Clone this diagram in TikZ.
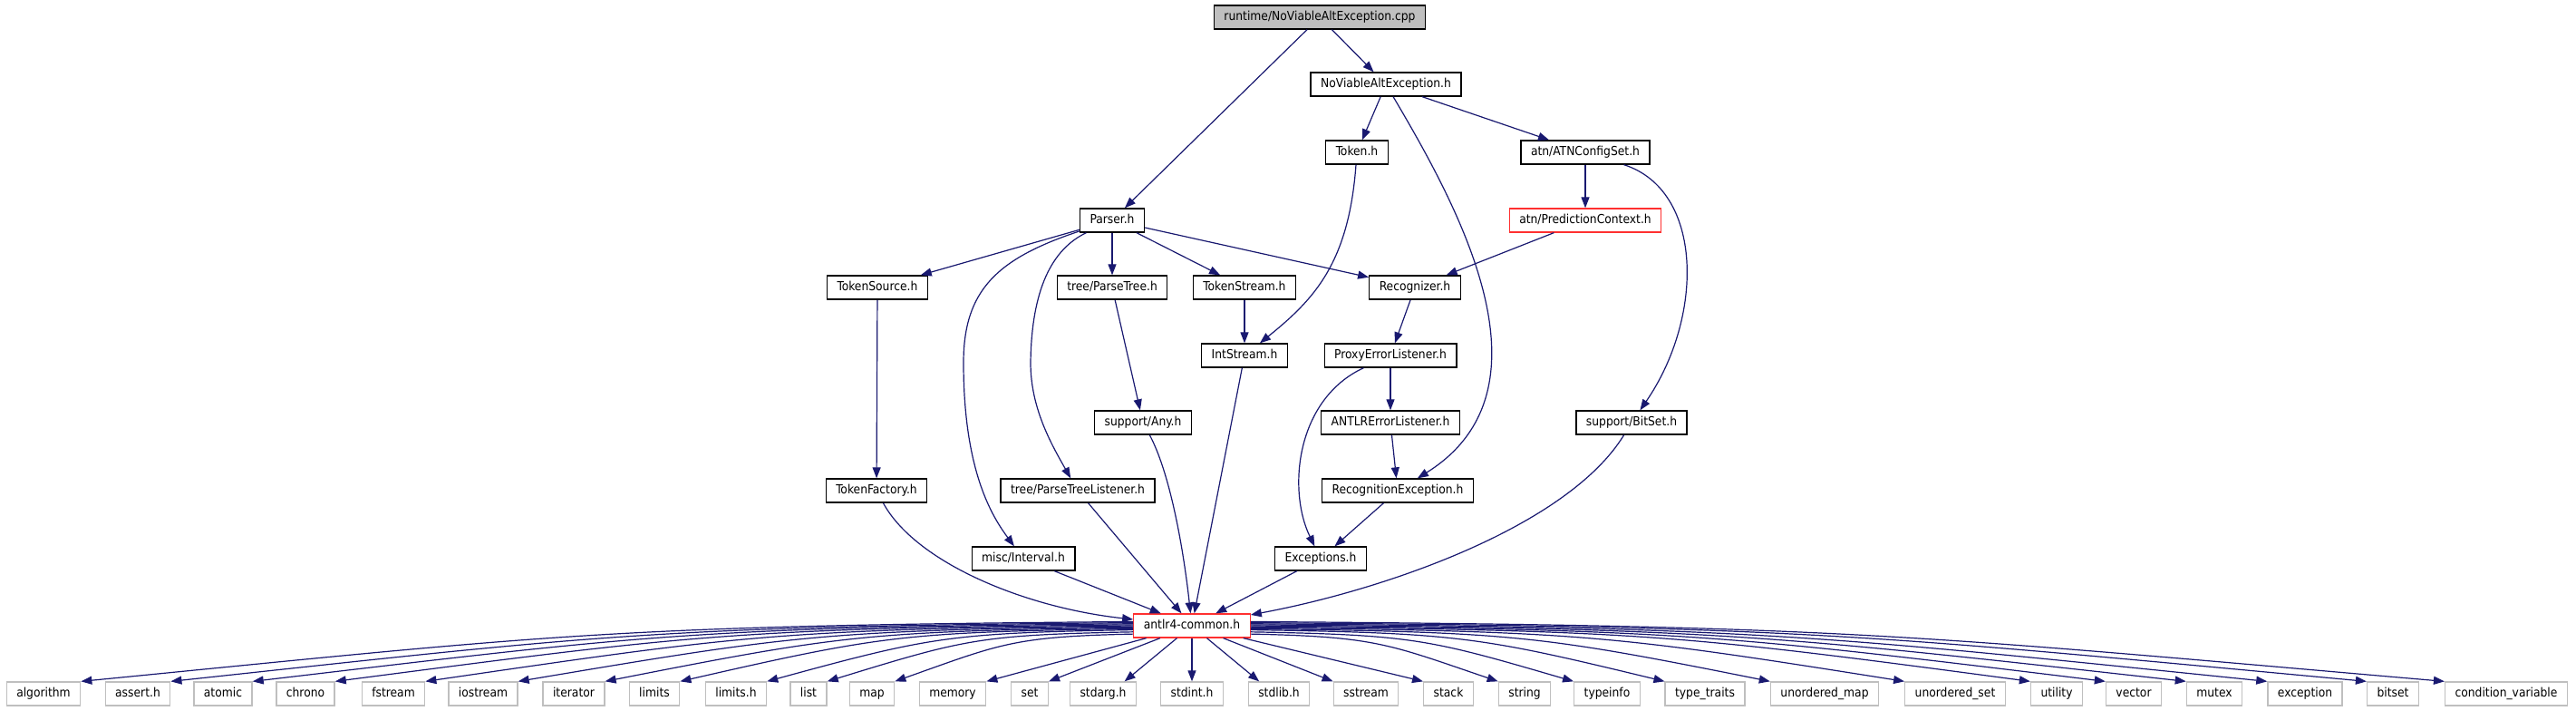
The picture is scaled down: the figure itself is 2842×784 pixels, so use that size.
\documentclass[tikz,border=0pt]{standalone}
\usepackage{fontspec}
\setmainfont{DejaVu Sans Condensed}
\usetikzlibrary{arrows.meta}
\definecolor{edgeblue}{HTML}{191970}
\definecolor{sysgray}{HTML}{BFBFBF}
\definecolor{cutred}{HTML}{FF3030}
\tikzset{
  hdr/.style={draw=black, line width=1.3pt, fill=white, minimum height=26pt,
    inner xsep=11pt, inner ysep=0pt, text height=10pt, text depth=3pt,
    font=\fontsize{13.7}{16}\selectfont},
  partial/.style={hdr, draw=cutred},
  sys/.style={hdr, draw=sysgray},
  rootbox/.style={hdr, fill=sysgray},
  dep/.style={color=edgeblue, line width=1.2pt, -{Triangle[length=12pt,width=9pt]}}
}
\begin{document}
\begin{tikzpicture}[x=1pt,y=-1pt]
\useasboundingbox (0,0) rectangle (2842,784);

\node[rootbox] (root) at (1456,19) {runtime/NoViableAltException.cpp};
\node[hdr] (nvae) at (1529,93) {NoViableAltException.h};
\node[hdr] (token) at (1497,168) {Token.h};
\node[hdr] (atncs) at (1749,168) {atn/ATNConfigSet.h};
\node[hdr] (parser) at (1227,243) {Parser.h};
\node[partial] (predctx) at (1749,243) {atn/PredictionContext.h};
\node[hdr] (tsource) at (968,317) {TokenSource.h};
\node[hdr] (ptree) at (1227,317) {tree/ParseTree.h};
\node[hdr] (tstream) at (1373,317) {TokenStream.h};
\node[hdr] (recog) at (1561,317) {Recognizer.h};
\node[hdr] (intstream) at (1373,392) {IntStream.h};
\node[hdr] (proxy) at (1534,392) {ProxyErrorListener.h};
\node[hdr] (anyh) at (1261,466) {support/Any.h};
\node[hdr] (antlrel) at (1534,466) {ANTLRErrorListener.h};
\node[hdr] (bitseth) at (1800,466) {support/BitSet.h};
\node[hdr] (tfactory) at (967,541) {TokenFactory.h};
\node[hdr] (ptlistener) at (1189,541) {tree/ParseTreeListener.h};
\node[hdr] (recogex) at (1542,541) {RecognitionException.h};
\node[hdr] (interval) at (1129,616) {misc/Interval.h};
\node[hdr] (excs) at (1457,616) {Exceptions.h};
\node[partial] (common) at (1315,690) {antlr4-common.h};

\node[sys] (algorithm) at (48,765) {algorithm};
\node[sys] (asserth) at (152,765) {assert.h};
\node[sys] (atomic) at (246,765) {atomic};
\node[sys] (chrono) at (337,765) {chrono};
\node[sys] (fstream) at (434,765) {fstream};
\node[sys] (iostream) at (533,765) {iostream};
\node[sys] (iterator) at (633,765) {iterator};
\node[sys] (limits) at (722,765) {limits};
\node[sys] (limitsh) at (812,765) {limits.h};
\node[sys] (list) at (892,765) {list};
\node[sys] (map) at (962,765) {map};
\node[sys] (memory) at (1051,765) {memory};
\node[sys] (set) at (1136,765) {set};
\node[sys] (stdargh) at (1217,765) {stdarg.h};
\node[sys] (stdinth) at (1315,765) {stdint.h};
\node[sys] (stdlibh) at (1411,765) {stdlib.h};
\node[sys] (sstream) at (1507,765) {sstream};
\node[sys] (stack) at (1598,765) {stack};
\node[sys] (string) at (1682,765) {string};
\node[sys] (typeinfo) at (1773,765) {typeinfo};
\node[sys] (typetraits) at (1881,765) {type\_traits};
\node[sys] (umap) at (2013,765) {unordered\_map};
\node[sys] (uset) at (2157,765) {unordered\_set};
\node[sys] (utility) at (2269,765) {utility};
\node[sys] (vector) at (2354,765) {vector};
\node[sys] (mutex) at (2443,765) {mutex};
\node[sys] (exception) at (2543,765) {exception};
\node[sys] (bitset) at (2640,765) {bitset};
\node[sys] (condvar) at (2765,765) {condition\_variable};

\draw[dep] (root) -- (nvae);
\draw[dep] (root) -- (parser);
\draw[dep] (nvae) -- (token);
\draw[dep] (nvae) -- (atncs);
\draw[dep] (nvae) .. controls (1610,230) and (1720,430) .. (recogex);
\draw[dep] (token) .. controls (1488,290) and (1450,330) .. (intstream);
\draw[dep] (atncs) -- (predctx);
\draw[dep] (atncs) .. controls (1880,210) and (1880,350) .. (bitseth);
\draw[dep] (predctx) -- (recog);
\draw[dep] (parser) -- (tsource);
\draw[dep] (parser) .. controls (1100,285) and (1063,320) .. (1063,400)
  .. controls (1063,520) and (1095,570) .. (interval);
\draw[dep] (parser) .. controls (1160,275) and (1138,320) .. (1137,400)
  .. controls (1137,450) and (1160,490) .. (ptlistener);
\draw[dep] (parser) -- (ptree);
\draw[dep] (parser) -- (tstream);
\draw[dep] (parser) -- (recog);
\draw[dep] (tsource) -- (tfactory);
\draw[dep] (ptree) -- (anyh);
\draw[dep] (tstream) -- (intstream);
\draw[dep] (recog) -- (proxy);
\draw[dep] (proxy) -- (antlrel);
\draw[dep] (proxy) .. controls (1430,440) and (1420,540) .. (excs);
\draw[dep] (antlrel) -- (recogex);
\draw[dep] (recogex) -- (excs);
\draw[dep] (intstream) -- (common);
\draw[dep] (anyh) .. controls (1290,520) and (1305,600) .. (common);
\draw[dep] (ptlistener) -- (common);
\draw[dep] (interval) -- (common);
\draw[dep] (tfactory) .. controls (1010,620) and (1130,670) .. (common);
\draw[dep] (excs) -- (common);
\draw[dep] (bitseth) .. controls (1730,580) and (1530,650) .. (common);

\draw[dep] (common.176) .. controls (670,690) and (612,700) .. (algorithm.north east);
\draw[dep] (common.177) .. controls (719,691) and (666,700) .. (asserth.north east);
\draw[dep] (common.178) .. controls (764,692) and (715,700) .. (atomic.north east);
\draw[dep] (common.179) .. controls (809,693) and (765,700) .. (chrono.north east);
\draw[dep] (common.180) .. controls (860,694) and (822,700) .. (fstream.north east);
\draw[dep] (common.181) .. controls (910,695) and (877,700) .. (iostream.north east);
\draw[dep] (common.182) .. controls (958,696) and (929,700) .. (iterator.north east);
\draw[dep] (common.183) .. controls (1000,697) and (975,700) .. (limits.north east);
\draw[dep] (common.184) .. controls (1048,698) and (1027,702) .. (limitsh.north east);
\draw[dep] (common.186) .. controls (1080,700) and (1064,705) .. (list.north east);
\draw[dep] (common.188) .. controls (1117,702) and (1104,710) .. (map.north east);
\draw[dep] (common) -- (memory.north east);
\draw[dep] (common) -- (set.north east);
\draw[dep] (common) -- (stdargh.30);
\draw[dep] (common) -- (stdinth);
\draw[dep] (common) -- (stdlibh.148);
\draw[dep] (common) -- (sstream.north west);
\draw[dep] (common) -- (stack.north west);
\draw[dep] (common.-8) .. controls (1518,702) and (1531,710) .. (string.north west);
\draw[dep] (common.-6) .. controls (1560,700) and (1577,705) .. (typeinfo.north west);
\draw[dep] (common.-4) .. controls (1609,698) and (1632,702) .. (typetraits.north west);
\draw[dep] (common.-3) .. controls (1668,697) and (1696,700) .. (umap.north west);
\draw[dep] (common.-2) .. controls (1742,696) and (1777,700) .. (uset.north west);
\draw[dep] (common.-1) .. controls (1811,695) and (1854,700) .. (utility.north west);
\draw[dep] (common.0) .. controls (1853,694) and (1900,700) .. (vector.north west);
\draw[dep] (common.1) .. controls (1897,693) and (1948,700) .. (mutex.north west);
\draw[dep] (common.2) .. controls (1942,692) and (1997,700) .. (exception.north west);
\draw[dep] (common.3) .. controls (1997,691) and (2058,700) .. (bitset.north west);
\draw[dep] (common.4) .. controls (2039,690) and (2104,700) .. (condvar.north west);
\end{tikzpicture}
\end{document}
